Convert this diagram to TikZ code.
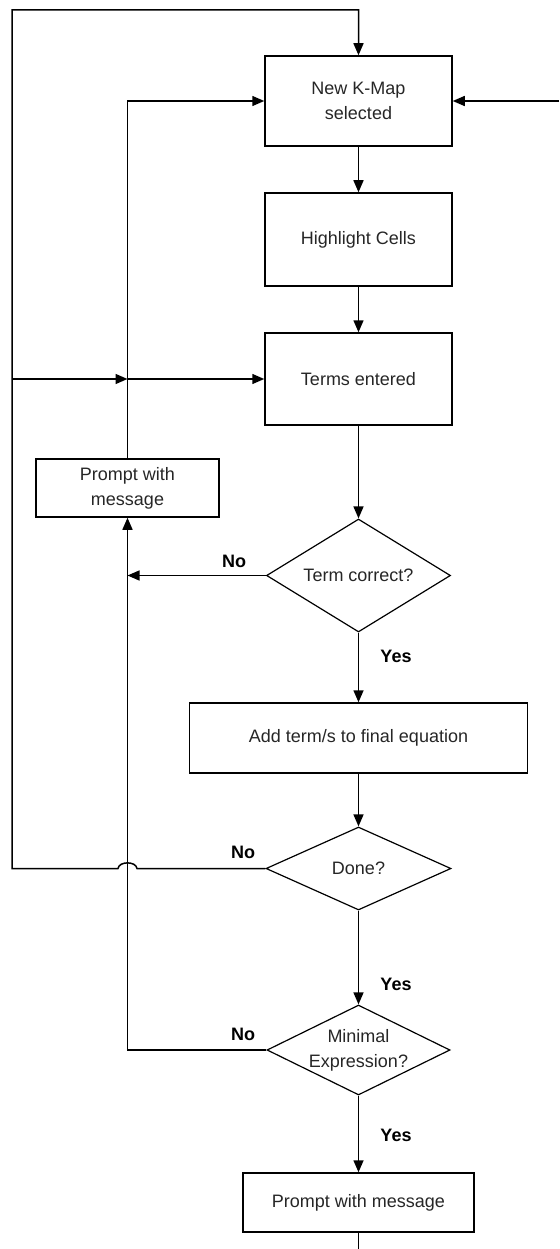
\documentclass[tikz,border=0pt]{standalone}
\usepackage{fontspec}
\setmainfont{Liberation Sans}
\usetikzlibrary{arrows.meta,shapes.geometric}
\tikzset{
  line/.style={line width=1.5pt, draw=black},
  arr/.style={line, -{Triangle[length=12pt,width=10pt]}},
  procbox/.style={draw=black, line width=1.5pt, rectangle, inner sep=0pt, align=center,
    font=\fontsize{18}{25}\selectfont, text=black!85},
  decision/.style={draw=black, line width=1.2pt, diamond, inner sep=0pt},
  dtext/.style={align=center, font=\fontsize{18}{25}\selectfont, text=black!85},
  lbl/.style={font=\bfseries\fontsize{18}{22}\selectfont, inner sep=0pt}
}
\begin{document}
\begin{tikzpicture}[x=1pt,y=-1pt]
\useasboundingbox (0,0) rectangle (559,1249);
% process boxes
\node[procbox, minimum width=187pt, minimum height=90pt] (b1) at (358.5,101) {New K-Map\\selected};
\node[procbox, minimum width=187pt, minimum height=93pt] (b2) at (358.5,239.5) {Highlight Cells};
\node[procbox, minimum width=187pt, minimum height=92pt] (b3) at (358.5,379) {Terms entered};
\node[procbox, minimum width=183pt, minimum height=58pt] (pr) at (127.5,488) {Prompt with\\message};
\node[decision, minimum width=184pt, minimum height=113pt] (d1) at (358.5,575.5) {};
\node[dtext] (d1t) at (d1.center) {Term correct?};
\node[procbox, minimum width=338pt, minimum height=70pt] (b4) at (358.5,738) {Add term/s to final equation};
\node[decision, minimum width=185pt, minimum height=83pt] (d2) at (358.5,868.5) {};
\node[dtext] (d2t) at (d2.center) {Done?};
\node[decision, minimum width=183pt, minimum height=90pt] (d3) at (358.5,1050) {};
\node[dtext] (d3t) at (d3.center) {Minimal\\Expression?};
\node[procbox, minimum width=231pt, minimum height=59pt] (b5) at (358.5,1202.5) {Prompt with message};
% labels
\node[lbl] (no1) at (234,561) {No};
\node[lbl] (yes1) at (396,656) {Yes};
\node[lbl] (no2) at (243,852) {No};
\node[lbl] (yes2) at (396,984) {Yes};
\node[lbl] (no3) at (243,1034) {No};
\node[lbl] (yes3) at (396,1135) {Yes};
% helper coordinates
\coordinate (tl) at (12,10);
\coordinate (lm) at (12,379);
\coordinate (lx) at (12,868.5);
\coordinate (v1) at (127.5,379);
\coordinate (h1) at (127.5,575.5);
\coordinate (re) at (559,101);
\coordinate (bot) at (358.5,1249);
\coordinate (hopR) at (137,868.5);
\coordinate (hopL) at (118,868.5);
% main flow
\draw[arr] (b1) -- (b2);
\draw[arr] (b2) -- (b3);
\draw[arr] (b3) -- (d1.north);
\draw[arr] (d1.south) -- (b4);
\draw[arr] (b4) -- (d2.north);
\draw[arr] (d2.south) -- (d3.north);
\draw[arr] (d3.south) -- (b5);
\draw[line] (b5.south) -- (bot);
% loops
\draw[arr] (d2.west) -- (hopR) .. controls (136,861) and (119,861) .. (hopL) -- (lx) -- (tl) -| (b1.north);
\draw[arr] (lm) -- (v1);
\draw[arr] (v1) -- (b3.west);
\draw[arr] (pr.north) |- (b1.west);
\draw[arr] (re) -- (b1.east);
\draw[arr] (d1.west) -- (h1);
\draw[arr] (d3.west) -| (pr.south);
\end{tikzpicture}
\end{document}
